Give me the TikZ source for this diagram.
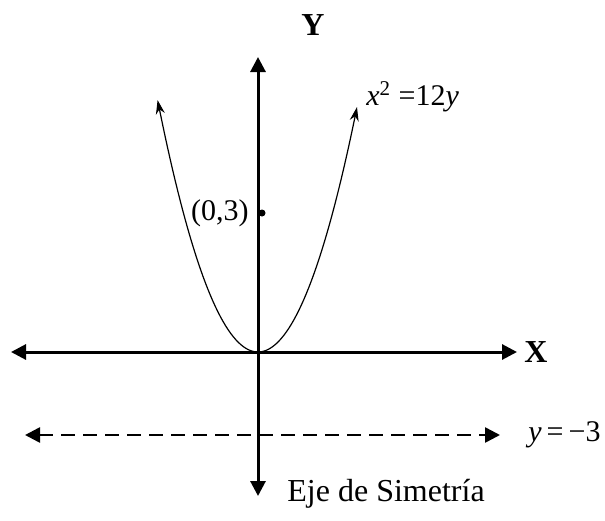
\documentclass[tikz,border=0pt]{standalone}
\usepackage{fontspec}
\setmainfont{Liberation Serif}
\usetikzlibrary{arrows.meta}
\tikzset{
    eje/.style={
        line width=1.5pt,
        {Triangle[length=7.5pt,width=7.5pt]}-{Triangle[length=7.5pt,width=7.5pt]}
    },
    directriz/.style={eje, line width=1.3pt, dash pattern=on 7pt off 4pt},
    curva/.style={line width=0.6pt, {Stealth[length=7pt,width=4.5pt]}-{Stealth[length=7pt,width=4.5pt]}},
    etiqueta/.style={font=\fontsize{15}{18}\selectfont, inner sep=1pt},
    titulo/.style={font=\fontsize{16}{19}\selectfont\bfseries, inner sep=1pt}
}

\begin{document}
\begin{tikzpicture}[x=0.5pt, y=-0.5pt]
    \useasboundingbox (0,0) rectangle (605,520);

    % ejes
    \coordinate (xizq) at (11,352);
    \coordinate (xder) at (517,352);
    \coordinate (yarr) at (258,57);
    \coordinate (yabj) at (258,496);
    \coordinate (dizq) at (25,435);
    \coordinate (dder) at (500,435);

    \draw[eje] (xizq) -- (xder);
    \draw[eje] (yabj) -- (yarr);
    \draw[directriz] (dizq) -- (dder);

    % parabola
    \draw[curva] plot[domain=-100.4:99, samples=80] ({258+\x},{352-0.025*\x*\x});

    % foco
    \fill (262,213) circle (3.5);
    \node[etiqueta, anchor=east] (foco) at (251,213) {(0,3)};

    \node[titulo] (ejeY) at (313,25) {Y};
    \node[titulo, anchor=west] (ejeX) at (522,352) {X};
    \node[etiqueta, anchor=west] (ecuacion) at (364,97) {\textit{x}\textsuperscript{2} =12\textit{y}};
    \node[etiqueta, anchor=west] (recta) at (526,435) {\textit{y}\,=\,−3};
    \node[etiqueta, font=\fontsize{16}{19}\selectfont, anchor=west] (simetria) at (285,494) {Eje de Simetría};
\end{tikzpicture}
\end{document}
